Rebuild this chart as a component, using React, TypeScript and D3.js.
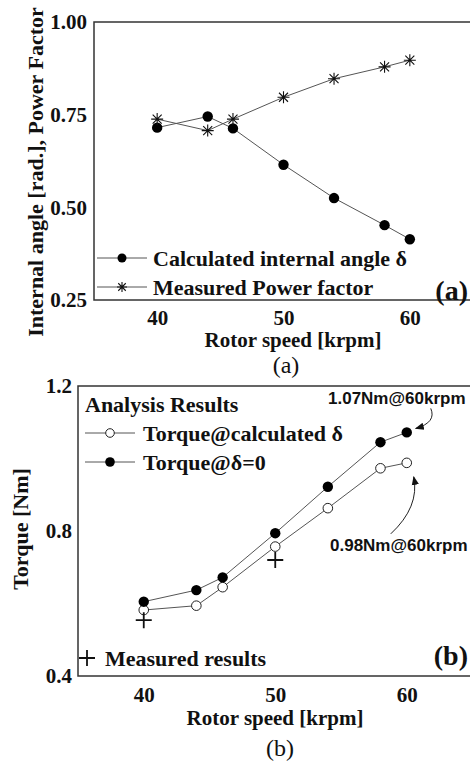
import React, { useEffect, useRef } from "react";
import * as d3 from "d3";

// rotor speed for all analysis points [krpm]
const speeds = [40, 44, 46, 50, 54, 58, 60];

// (a) internal angle and power factor
const internalAngle = [0.715, 0.745, 0.713, 0.615, 0.525, 0.452, 0.414];
const powerFactor = [0.738, 0.707, 0.738, 0.797, 0.847, 0.879, 0.897];
const ticksA = [0.25, 0.5, 0.75, 1.0];

// (b) torque
const torqueCalcDelta = [0.582, 0.594, 0.645, 0.757, 0.863, 0.973, 0.988];
const torqueDeltaZero = [0.605, 0.637, 0.672, 0.794, 0.922, 1.045, 1.072];
const measuredSpeeds = [40, 50];
const measuredTorque = [0.554, 0.72];
const ticksB = [0.4, 0.8, 1.2];

const speedTicks = [40, 50, 60];

const SERIF = "'Liberation Serif', 'Times New Roman', serif";
const SANS = "'Liberation Sans', Arial, sans-serif";

export default function App() {
  const ref = useRef<SVGSVGElement>(null);

  useEffect(() => {
    const svg = d3.select(ref.current);
    svg.selectAll("*").remove();

    const defs = svg.append("defs");
    defs
      .append("marker")
      .attr("id", "arrow")
      .attr("viewBox", "0 0 10 10")
      .attr("refX", 9)
      .attr("refY", 5)
      .attr("markerWidth", 9)
      .attr("markerHeight", 9)
      .attr("markerUnits", "userSpaceOnUse")
      .attr("orient", "auto")
      .append("path")
      .attr("d", "M0,1 L10,5 L0,9 Z")
      .attr("fill", "#111");

    const lineColor = "#555";

    // ---------- panel (a) ----------
    const xA = d3.scaleLinear().domain([35, 65]).range([94, 473]);
    const yA = d3.scaleLinear().domain([0.25, 1.0]).range([300, 22]);
    const gA = svg.append("g");

    gA.append("rect")
      .attr("x", xA(35))
      .attr("y", yA(1.0))
      .attr("width", xA(65) - xA(35))
      .attr("height", yA(0.25) - yA(1.0))
      .attr("fill", "none")
      .attr("stroke", "#333")
      .attr("stroke-width", 1.5);

    const axA = gA
      .append("g")
      .attr("transform", `translate(${xA(35)},0)`)
      .call(d3.axisLeft(yA).tickValues(ticksA).tickFormat(d3.format(".2f")).tickSize(0).tickPadding(7));
    const axAx = gA
      .append("g")
      .attr("transform", `translate(0,${yA(0.25)})`)
      .call(d3.axisBottom(xA).tickValues(speedTicks).tickSize(0).tickPadding(10));
    [axA, axAx].forEach((a) => {
      a.select(".domain").remove();
      a.selectAll("text")
        .attr("font-family", SERIF)
        .attr("font-weight", "bold")
        .attr("font-size", 21)
        .attr("fill", "#111");
    });

    const ptsAngle = speeds.map((s, i) => [s, internalAngle[i]] as [number, number]);
    const ptsPF = speeds.map((s, i) => [s, powerFactor[i]] as [number, number]);
    const lineA = d3.line<[number, number]>().x((d) => xA(d[0])).y((d) => yA(d[1]));

    gA.append("path").datum(ptsAngle).attr("d", lineA).attr("fill", "none").attr("stroke", lineColor).attr("stroke-width", 1);
    gA.append("path").datum(ptsPF).attr("d", lineA).attr("fill", "none").attr("stroke", lineColor).attr("stroke-width", 1);

    gA.selectAll("circle.angle")
      .data(ptsAngle)
      .join("circle")
      .attr("class", "angle")
      .attr("cx", (d) => xA(d[0]))
      .attr("cy", (d) => yA(d[1]))
      .attr("r", 5.2)
      .attr("fill", "#000");

    const star = (g: any, cx: number, cy: number, r: number) => {
      const d = r * 0.75;
      g.append("path")
        .attr("d", `M${cx},${cy - r}L${cx},${cy + r}M${cx - d},${cy - d}L${cx + d},${cy + d}M${cx - d},${cy + d}L${cx + d},${cy - d}M${cx - r},${cy}L${cx + r},${cy}`)
        .attr("stroke", "#111")
        .attr("stroke-width", 1.1)
        .attr("fill", "none");
    };
    ptsPF.forEach((d) => star(gA, xA(d[0]), yA(d[1]), 6));

    // legend (a)
    const legA = [
      { y: 258, label: "Calculated internal angle \u03b4", kind: "dot" },
      { y: 287, label: "Measured Power factor", kind: "star" },
    ];
    legA.forEach((l) => {
      gA.append("line").attr("x1", 97).attr("x2", 147).attr("y1", l.y).attr("y2", l.y).attr("stroke", lineColor).attr("stroke-width", 1);
      if (l.kind === "dot") gA.append("circle").attr("cx", 122).attr("cy", l.y).attr("r", 4.5).attr("fill", "#000");
      else star(gA, 122, l.y, 5);
      gA.append("text")
        .attr("x", 153)
        .attr("y", l.y)
        .attr("dy", "0.35em")
        .attr("font-family", SERIF)
        .attr("font-weight", "bold")
        .attr("font-size", 22)
        .attr("fill", "#111")
        .text(l.label);
    });

    gA.append("text")
      .attr("x", 468)
      .attr("y", 290)
      .attr("dy", "0.35em")
      .attr("text-anchor", "end")
      .attr("font-family", SERIF)
      .attr("font-weight", "bold")
      .attr("font-size", 28)
      .attr("fill", "#111")
      .text("(a)");

    gA.append("text")
      .attr("transform", "translate(35,172) rotate(-90)")
      .attr("dy", "0.35em")
      .attr("text-anchor", "middle")
      .attr("font-family", SERIF)
      .attr("font-weight", "bold")
      .attr("font-size", 22)
      .attr("fill", "#111")
      .text("Internal angle [rad.], Power Factor");

    gA.append("text")
      .attr("x", 293)
      .attr("y", 340)
      .attr("dy", "0.35em")
      .attr("text-anchor", "middle")
      .attr("font-family", SERIF)
      .attr("font-weight", "bold")
      .attr("font-size", 21)
      .attr("fill", "#111")
      .text("Rotor speed [krpm]");

    gA.append("text")
      .attr("x", 286)
      .attr("y", 365)
      .attr("dy", "0.35em")
      .attr("text-anchor", "middle")
      .attr("font-family", SERIF)
      .attr("font-size", 24)
      .attr("fill", "#111")
      .text("(a)");

    // ---------- panel (b) ----------
    const xB = d3.scaleLinear().domain([35, 65]).range([78, 472.5]);
    const yB = d3.scaleLinear().domain([0.4, 1.2]).range([676, 386]);
    const gB = svg.append("g");

    gB.append("rect")
      .attr("x", xB(35))
      .attr("y", yB(1.2))
      .attr("width", xB(65) - xB(35))
      .attr("height", yB(0.4) - yB(1.2))
      .attr("fill", "none")
      .attr("stroke", "#333")
      .attr("stroke-width", 1.5);

    const axB = gB
      .append("g")
      .attr("transform", `translate(${xB(35)},0)`)
      .call(d3.axisLeft(yB).tickValues(ticksB).tickFormat(d3.format(".1f")).tickSize(0).tickPadding(6));
    const axBx = gB
      .append("g")
      .attr("transform", `translate(0,${yB(0.4)})`)
      .call(d3.axisBottom(xB).tickValues(speedTicks).tickSize(0).tickPadding(11));
    [axB, axBx].forEach((a) => {
      a.select(".domain").remove();
      a.selectAll("text")
        .attr("font-family", SERIF)
        .attr("font-weight", "bold")
        .attr("font-size", 21)
        .attr("fill", "#111");
    });

    const ptsCalc = speeds.map((s, i) => [s, torqueCalcDelta[i]] as [number, number]);
    const ptsZero = speeds.map((s, i) => [s, torqueDeltaZero[i]] as [number, number]);
    const lineB = d3.line<[number, number]>().x((d) => xB(d[0])).y((d) => yB(d[1]));

    gB.append("path").datum(ptsCalc).attr("d", lineB).attr("fill", "none").attr("stroke", lineColor).attr("stroke-width", 1);
    gB.append("path").datum(ptsZero).attr("d", lineB).attr("fill", "none").attr("stroke", lineColor).attr("stroke-width", 1);

    gB.selectAll("circle.calc")
      .data(ptsCalc)
      .join("circle")
      .attr("class", "calc")
      .attr("cx", (d) => xB(d[0]))
      .attr("cy", (d) => yB(d[1]))
      .attr("r", 4.8)
      .attr("fill", "#fff")
      .attr("stroke", "#222")
      .attr("stroke-width", 1);

    gB.selectAll("circle.zero")
      .data(ptsZero)
      .join("circle")
      .attr("class", "zero")
      .attr("cx", (d) => xB(d[0]))
      .attr("cy", (d) => yB(d[1]))
      .attr("r", 5.2)
      .attr("fill", "#000");

    const plus = (g: any, cx: number, cy: number, r: number) => {
      g.append("path")
        .attr("d", `M${cx - r},${cy}L${cx + r},${cy}M${cx},${cy - r}L${cx},${cy + r}`)
        .attr("stroke", "#111")
        .attr("stroke-width", 1.8)
        .attr("fill", "none");
    };
    measuredSpeeds.forEach((s, i) => plus(gB, xB(s), yB(measuredTorque[i]), 8));

    // legend (b)
    gB.append("text")
      .attr("x", 85)
      .attr("y", 404)
      .attr("dy", "0.35em")
      .attr("font-family", SERIF)
      .attr("font-weight", "bold")
      .attr("font-size", 22)
      .attr("fill", "#111")
      .text("Analysis Results");

    const legB = [
      { y: 433, label: "Torque@calculated \u03b4", open: true },
      { y: 462, label: "Torque@\u03b4=0", open: false },
    ];
    legB.forEach((l) => {
      gB.append("line").attr("x1", 85).attr("x2", 135).attr("y1", l.y).attr("y2", l.y).attr("stroke", lineColor).attr("stroke-width", 1);
      gB.append("circle")
        .attr("cx", 110)
        .attr("cy", l.y)
        .attr("r", l.open ? 4.3 : 4.8)
        .attr("fill", l.open ? "#fff" : "#000")
        .attr("stroke", l.open ? "#222" : "none");
      gB.append("text")
        .attr("x", 143)
        .attr("y", l.y)
        .attr("dy", "0.35em")
        .attr("font-family", SERIF)
        .attr("font-weight", "bold")
        .attr("font-size", 22)
        .attr("fill", "#111")
        .text(l.label);
    });

    plus(gB, 87, 658, 8);
    gB.append("text")
      .attr("x", 105)
      .attr("y", 658)
      .attr("dy", "0.35em")
      .attr("font-family", SERIF)
      .attr("font-weight", "bold")
      .attr("font-size", 22)
      .attr("fill", "#111")
      .text("Measured results");

    gB.append("text")
      .attr("x", 468)
      .attr("y", 655)
      .attr("dy", "0.35em")
      .attr("text-anchor", "end")
      .attr("font-family", SERIF)
      .attr("font-weight", "bold")
      .attr("font-size", 28)
      .attr("fill", "#111")
      .text("(b)");

    // annotations
    const endZero = ptsZero[ptsZero.length - 1];
    const endCalc = ptsCalc[ptsCalc.length - 1];
    gB.append("text")
      .attr("x", 328)
      .attr("y", 398)
      .attr("dy", "0.35em")
      .attr("font-family", SANS)
      .attr("font-weight", "bold")
      .attr("font-size", 17)
      .attr("fill", "#111")
      .text("1.07Nm@60krpm");
    gB.append("text")
      .attr("x", 330)
      .attr("y", 545)
      .attr("dy", "0.35em")
      .attr("font-family", SANS)
      .attr("font-weight", "bold")
      .attr("font-size", 17)
      .attr("fill", "#111")
      .text("0.98Nm@60krpm");

    const ax1 = xB(endZero[0]) + 9;
    const ay1 = yB(endZero[1]) - 4;
    gB.append("path")
      .attr("d", `M${ax1 + 15},${ay1 - 20} Q${ax1 + 21},${ay1 - 6} ${ax1},${ay1}`)
      .attr("fill", "none")
      .attr("stroke", "#222")
      .attr("stroke-width", 1)
      .attr("marker-end", "url(#arrow)");

    const ax2 = xB(endCalc[0]) + 7;
    const ay2 = yB(endCalc[1]) + 14;
    gB.append("path")
      .attr("d", `M${ax2 - 23},${ay2 + 57} Q${ax2 + 6},${ay2 + 30} ${ax2},${ay2}`)
      .attr("fill", "none")
      .attr("stroke", "#222")
      .attr("stroke-width", 1)
      .attr("marker-end", "url(#arrow)");

    gB.append("text")
      .attr("transform", "translate(20,529) rotate(-90)")
      .attr("dy", "0.35em")
      .attr("text-anchor", "middle")
      .attr("font-family", SERIF)
      .attr("font-weight", "bold")
      .attr("font-size", 22)
      .attr("fill", "#111")
      .text("Torque [Nm]");

    gB.append("text")
      .attr("x", 275)
      .attr("y", 718)
      .attr("dy", "0.35em")
      .attr("text-anchor", "middle")
      .attr("font-family", SERIF)
      .attr("font-weight", "bold")
      .attr("font-size", 21)
      .attr("fill", "#111")
      .text("Rotor speed [krpm]");

    gB.append("text")
      .attr("x", 280)
      .attr("y", 748)
      .attr("dy", "0.35em")
      .attr("text-anchor", "middle")
      .attr("font-family", SERIF)
      .attr("font-size", 24)
      .attr("fill", "#111")
      .text("(b)");
  }, []);

  return (
    <svg
      ref={ref}
      width={470}
      height={767}
      style={{ position: "absolute", left: 0, top: 0, background: "#fff" }}
    />
  );
}
